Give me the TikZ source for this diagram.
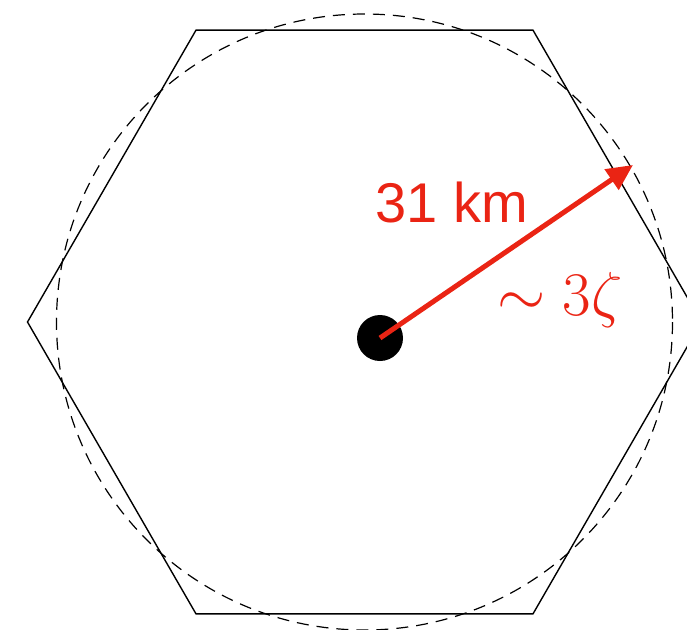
\RequirePackage{fix-cm}
\documentclass[tikz,border=0pt]{standalone}
\usepackage{fontspec}
\newfontfamily\labelsans{Liberation Sans}
\usetikzlibrary{arrows.meta}
\definecolor{ArrowRed}{RGB}{234,36,20}
\tikzset{
  hexedge/.style={draw=black,line width=0.7pt,line join=miter},
  cellcircle/.style={draw=black,dash pattern=on 6pt off 4pt,line width=0.6pt},
  site/.style={circle,fill=black,inner sep=0pt,minimum size=23pt},
  radiusarrow/.style={draw=ArrowRed,line width=2.5pt,-{Triangle[length=13pt,width=12pt]}},
  redlabel/.style={text=ArrowRed,anchor=base west,inner sep=0pt},
}

\begin{document}
\begin{tikzpicture}[x=0.5pt,y=-0.5pt]
  \useasboundingbox (0,0) rectangle (687,629);
  \clip (0,0) rectangle (687,629);

  % Hexagonal cell and its dashed circumscribing circle.
  \begin{scope}[shift={(364.5,322)}]
    \foreach \i/\angle in {1/0,2/60,3/120,4/180,5/240,6/300}
      \coordinate (h\i) at (\angle:337);
    \draw[hexedge] (h1)--(h2)--(h3)--(h4)--(h5)--(h6)--cycle;
    \draw[cellcircle] (0,0) circle[radius=308];
  \end{scope}

  % Site and its radius.
  \node[site] (site) at (380,338) {};
  \coordinate (tip) at (633,165);
  \draw[radiusarrow] (site.center) -- (tip);

  \node[redlabel,font=\labelsans\fontsize{28}{32}\selectfont] (dist) at (375,222) {31 km};
  \node[redlabel,font=\fontsize{31}{36}\selectfont] (scale) at (497,315) {$\sim 3\zeta$};
\end{tikzpicture}
\end{document}
